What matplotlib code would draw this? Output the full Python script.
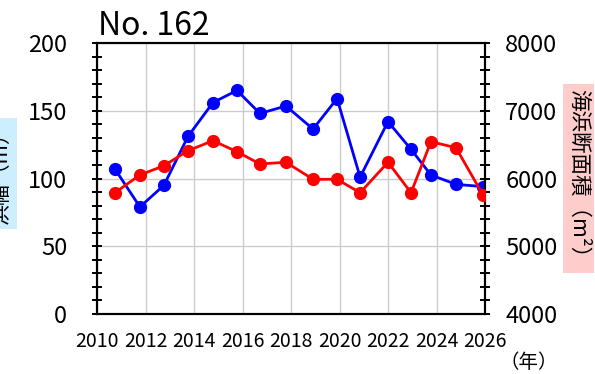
import matplotlib
matplotlib.use("Agg")
import matplotlib.pyplot as plt
from matplotlib.ticker import MultipleLocator

plt.rcParams['font.family'] = ['Noto Sans CJK JP', 'DejaVu Sans']

# survey dates (decimal year)
years = [2010.74, 2011.77, 2012.76, 2013.75, 2014.78, 2015.77, 2016.72, 2017.79,
         2018.91, 2019.90, 2020.85, 2022.00, 2022.95, 2023.77, 2024.80, 2025.92]
# beach width (m)
width = [107, 79, 95, 131, 156, 165, 148, 153.5,
         136.5, 159, 101, 142, 121.5, 102.6, 95.7, 94]
# beach cross-section area (m2)
area = [5790, 6052, 6188, 6410, 6558, 6396, 6214, 6240,
        5988, 5988, 5790, 6240, 5790, 6543, 6455, 5756]

fig = plt.figure(figsize=(5.95, 3.74), dpi=100)
ax = fig.add_axes([97/595, 1-314/374, 388/595, 271/374])
ax2 = ax.twinx()

ax.plot(years, width, '-o', color='#0000ff', lw=2.0, ms=8.5, zorder=3)
ax2.plot(years, area, '-o', color='#ff0000', lw=2.0, ms=8.5, zorder=3)

ax.set_xlim(2010, 2026)
ax.set_ylim(0, 200)
ax2.set_ylim(4000, 8000)
ax.set_xticks(range(2010, 2027, 2))
ax.yaxis.set_major_locator(MultipleLocator(50))
ax.yaxis.set_minor_locator(MultipleLocator(10))
ax2.yaxis.set_major_locator(MultipleLocator(1000))
ax2.yaxis.set_minor_locator(MultipleLocator(200))

ax.grid(True, color='#cccccc', lw=1.0)
ax.set_axisbelow(True)

for a in (ax, ax2):
    for s in a.spines.values():
        s.set_linewidth(1.5)
ax.tick_params(axis='x', length=0, pad=12, labelsize=14)
ax.tick_params(axis='y', which='both', direction='inout', length=7, width=1.4,
               pad=18, labelsize=17)
ax2.tick_params(axis='y', which='both', direction='inout', length=7, width=1.4,
                pad=11, labelsize=17)

fig.text(98/595, 1-35/374, 'No. 162', fontsize=23, ha='left', va='baseline')

fig.text(529/595, 1-363/374, '（年）', fontsize=14, ha='center', va='center')

fig.text(578.5/595, 1-178.5/374, '海浜断面積（m²）', fontsize=15.5, rotation=-90,
         ha='center', va='center',
         bbox=dict(boxstyle='square,pad=0.22', fc='#ffcccc', ec='none'))

fig.text(1.5/595, 1-173.5/374, '浜幅（m）', fontsize=15, rotation=90,
         ha='center', va='center',
         bbox=dict(boxstyle='square,pad=0.22', fc='#cceeff', ec='none'))

fig.savefig('out.png', dpi=100)
